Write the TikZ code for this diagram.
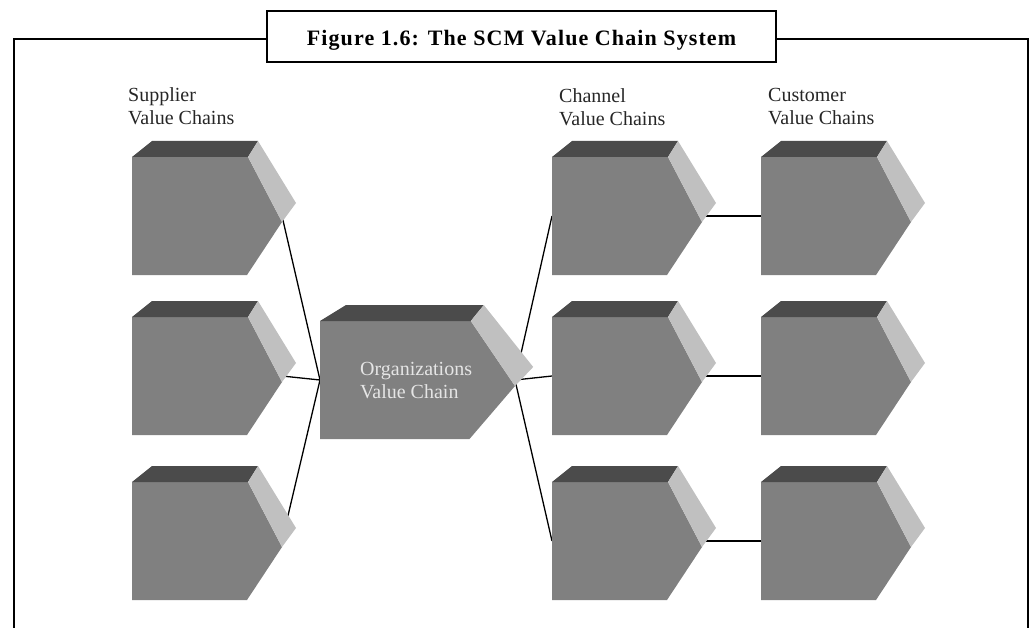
\documentclass[tikz,border=0pt]{standalone}
\usepackage{fontspec}
\setmainfont{Liberation Serif}
\pgfdeclarelayer{background}
\pgfsetlayers{background,main}

\definecolor{chainfront}{RGB}{128,128,128}
\definecolor{chaintop}{RGB}{75,75,75}
\definecolor{chainside}{RGB}{192,192,192}

\tikzset{
  frameline/.style={line width=2.5pt},
  link/.style={line width=1.3pt},
  chainlabel/.style={anchor=north west, inner sep=0pt, align=left, font=\fontsize{20}{23}\selectfont, text=black!85},
  titlebox/.style={draw, fill=white, line width=2.5pt, minimum width=509pt, minimum height=51pt, text height=21pt, text depth=2pt,
    font=\fontsize{22}{24}\selectfont\bfseries\addfontfeatures{LetterSpace=5}},
  valuechain/.pic={
    \fill[chainfront] (0,0) -- (116,0) -- (150,65) -- (115,118) -- (0,118) -- cycle;
    \fill[chaintop] (0,0) -- (20,-16) -- (126,-16) -- (116,0) -- cycle;
    \fill[chainside] (116,0) -- (126,-16) -- (164,46) -- (150,65) -- cycle;
    \coordinate (-in) at (0,59);
    \coordinate (-out) at (150,59);
  }
}

\begin{document}
\begin{tikzpicture}[x=1pt, y=-1pt]
\useasboundingbox (0,0) rectangle (1032,628);

\draw[frameline] (267,39) -- (14,39) -- (14,632);
\draw[frameline] (776,39) -- (1028,39) -- (1028,632);
\node[titlebox] (title) at (521.5,36.5) {Figure 1.6: The SCM Value Chain System};

\foreach \y [count=\i] in {157,317,482} {
  \pic (sup\i) at (132,\y) {valuechain};
  \pic (chan\i) at (552,\y) {valuechain};
  \pic (cust\i) at (761,\y) {valuechain};
}
\pic[xscale=1.3] (org) at (320,321) {valuechain};

\begin{pgfonlayer}{background}
\foreach \i in {1,2,3} {
  \draw[link] (sup\i-out) -- (org-in);
  \draw[link] (org-out) -- (chan\i-in);
  \draw[link] (chan\i-out) -- (cust\i-in);
}
\end{pgfonlayer}

\node[chainlabel] (suplabel) at (128,87) {Supplier\\Value Chains};
\node[chainlabel] (chanlabel) at (559,88) {Channel\\Value Chains};
\node[chainlabel] (custlabel) at (768,88) {Customer\\Value Chains};
\node[chainlabel, text=white!90!black] (orglabel) at (360,362) {Organizations\\Value Chain};
\end{tikzpicture}
\end{document}
